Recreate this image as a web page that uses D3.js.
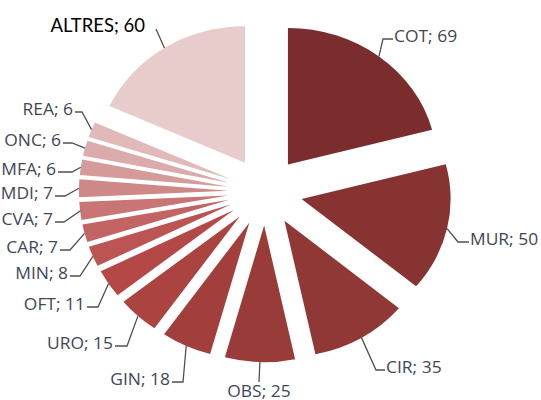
<!DOCTYPE html>
<html>
<head>
<meta charset="utf-8">
<script src="https://cdn.jsdelivr.net/npm/d3@7"></script>
<style>
  html, body { margin: 0; padding: 0; background: #ffffff; }
  svg { display: block; }
</style>
</head>
<body>
<svg id="chart" width="541" height="400"></svg>
<script>
// Services and their counts, clockwise from twelve o'clock
const services = ["COT", "MUR", "CIR", "OBS", "GIN", "URO", "OFT", "MIN", "CAR", "CVA", "MDI", "MFA", "ONC", "REA", "ALTRES"];
const counts   = [69, 50, 35, 25, 18, 15, 11, 8, 7, 7, 7, 6, 6, 6, 60];
const colours  = ["#7b2d2d", "#863331", "#903835", "#993c39", "#a23f3d", "#ab4341", "#b44846",
                  "#bb5453", "#c26464", "#c97575", "#cf8888", "#d59a9a", "#dbaaaa", "#e1b9b9", "#e8cbcb"];

// Label layout: elbow of each leader line and the anchor of its text
const elbows = [[383, 39], [458, 242], [376, 370], [259, 382], [183, 382], [127, 346], [98, 307],
                [80, 276], [70, 250], [64, 222], [65, 196], [72, 172], [72, 143], [82, 112], [156, 29]];
const textAt = [[393, 39], [469, 242], [385, 370], [259, 382], [172, 382], [115, 346], [87, 307],
                [70, 276], [60, 250], [55, 222], [55, 196], [58, 172], [63, 143], [75, 112], [156, 29]];

const svg = d3.select("#chart");
const cx = 265.2, cy = 191.5;
const R = 136.5;          // vertical radius
const sx = 1.092;         // horizontal stretch of the pie
const explode = 0.25 * R; // every slice pulled out by a quarter of the radius

const pie = d3.pie().sort(null).value(d => d)(counts);
const arc = d3.arc().innerRadius(0).outerRadius(R);

const g = svg.append("g").attr("transform", `translate(${cx},${cy}) scale(${sx},1)`);

const mid = d => (d.startAngle + d.endAngle) / 2;
const off = d => [explode * Math.sin(mid(d)), -explode * Math.cos(mid(d))];

g.selectAll("path.slice")
  .data(pie)
  .join("path")
  .attr("class", "slice")
  .attr("fill", (d, i) => colours[i])
  .attr("transform", d => `translate(${off(d)[0]},${off(d)[1]})`)
  .attr("d", arc);

// Point on the outer edge of each pulled-out slice, in page coordinates
const edgePoint = d => {
  const a = mid(d), o = off(d);
  return [cx + sx * (o[0] + R * Math.sin(a)), cy + (o[1] - R * Math.cos(a))];
};

// Leader lines
svg.selectAll("path.leader")
  .data(pie)
  .join("path")
  .attr("class", "leader")
  .attr("fill", "none")
  .attr("stroke", "#505050")
  .attr("stroke-width", 1.3)
  .attr("d", (d, i) => {
    const p = edgePoint(d);
    return d3.line()([p, elbows[i], textAt[i]]);
  });

// Labels "NAME; value"
const rightSide = i => i <= 2;
svg.selectAll("text.lbl")
  .data(pie)
  .join("text")
  .attr("class", "lbl")
  .attr("transform", (d, i) => {
    const t = textAt[i];
    if (i === 14) return `translate(${t[0] - 11},${t[1] + 3})`;
    if (i === 3) return `translate(${t[0]},${t[1] + 15}) scale(1.09,1)`;
    const dx = rightSide(i) ? 1 : -2;
    return `translate(${t[0] + dx},${t[1] + 3}) scale(1.09,1)`;
  })
  .attr("text-anchor", (d, i) => i === 3 ? "middle" : (rightSide(i) ? "start" : "end"))
  .attr("font-family", (d, i) => i === 14 ? "Lato, sans-serif" : "'Open Sans', sans-serif")
  .attr("font-size", (d, i) => i === 14 ? 18.5 : 16)
  .attr("fill", (d, i) => i === 14 ? "#000000" : "#3f4656")
  .text((d, i) => `${services[i]}; ${counts[i]}`);
</script>
</body>
</html>
